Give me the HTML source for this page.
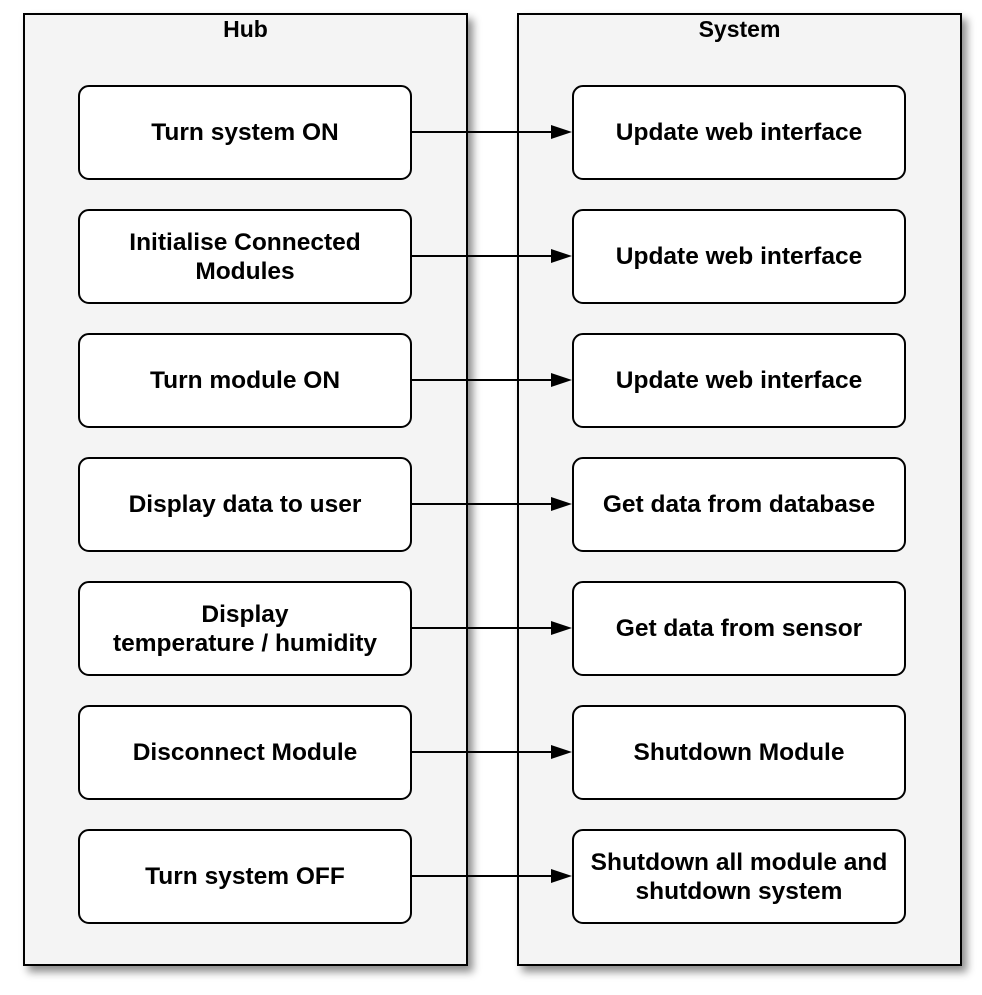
<!DOCTYPE html>
<html><head><style>
html,body{margin:0;padding:0;background:#fff;}
body{width:982px;height:995px;position:relative;overflow:hidden;font-family:"Liberation Sans",Arial,sans-serif;}
.c{position:absolute;background:#f4f4f4;border:2px solid #000;box-sizing:border-box;box-shadow:5px 6px 8px rgba(0,0,0,0.45);}
.t{position:absolute;top:1px;left:0;right:0;text-align:center;font-weight:bold;font-size:23px;}
.b{position:absolute;width:334px;height:95px;background:#fff;border:2px solid #000;box-sizing:border-box;border-radius:11px;display:flex;align-items:center;justify-content:center;text-align:center;font-weight:bold;font-size:24.5px;line-height:29px;}
svg{position:absolute;left:0;top:0;}
</style></head><body>
<div class="c" style="left:23px;top:13px;width:445px;height:953px"><div class="t">Hub</div></div>
<div class="c" style="left:517px;top:13px;width:445px;height:953px"><div class="t">System</div></div>

<div class="b" style="left:78px;top:85px">Turn system ON</div>
<div class="b" style="left:78px;top:209px">Initialise Connected<br>Modules</div>
<div class="b" style="left:78px;top:333px">Turn module ON</div>
<div class="b" style="left:78px;top:457px">Display data to user</div>
<div class="b" style="left:78px;top:581px">Display<br>temperature / humidity</div>
<div class="b" style="left:78px;top:705px">Disconnect Module</div>
<div class="b" style="left:78px;top:829px">Turn system OFF</div>

<div class="b" style="left:572px;top:85px">Update web interface</div>
<div class="b" style="left:572px;top:209px">Update web interface</div>
<div class="b" style="left:572px;top:333px">Update web interface</div>
<div class="b" style="left:572px;top:457px">Get data from database</div>
<div class="b" style="left:572px;top:581px">Get data from sensor</div>
<div class="b" style="left:572px;top:705px">Shutdown Module</div>
<div class="b" style="left:572px;top:829px">Shutdown all module and<br>shutdown system</div>

<svg width="982" height="995">
<g stroke="#000" stroke-width="2">
<line x1="412" y1="132" x2="555" y2="132"/>
<line x1="412" y1="256" x2="555" y2="256"/>
<line x1="412" y1="380" x2="555" y2="380"/>
<line x1="412" y1="504" x2="555" y2="504"/>
<line x1="412" y1="628" x2="555" y2="628"/>
<line x1="412" y1="752" x2="555" y2="752"/>
<line x1="412" y1="876" x2="555" y2="876"/>
</g>
<g fill="#000">
<polygon points="551,125 572,132 551,139"/>
<polygon points="551,249 572,256 551,263"/>
<polygon points="551,373 572,380 551,387"/>
<polygon points="551,497 572,504 551,511"/>
<polygon points="551,621 572,628 551,635"/>
<polygon points="551,745 572,752 551,759"/>
<polygon points="551,869 572,876 551,883"/>
</g>
</svg>
</body></html>
